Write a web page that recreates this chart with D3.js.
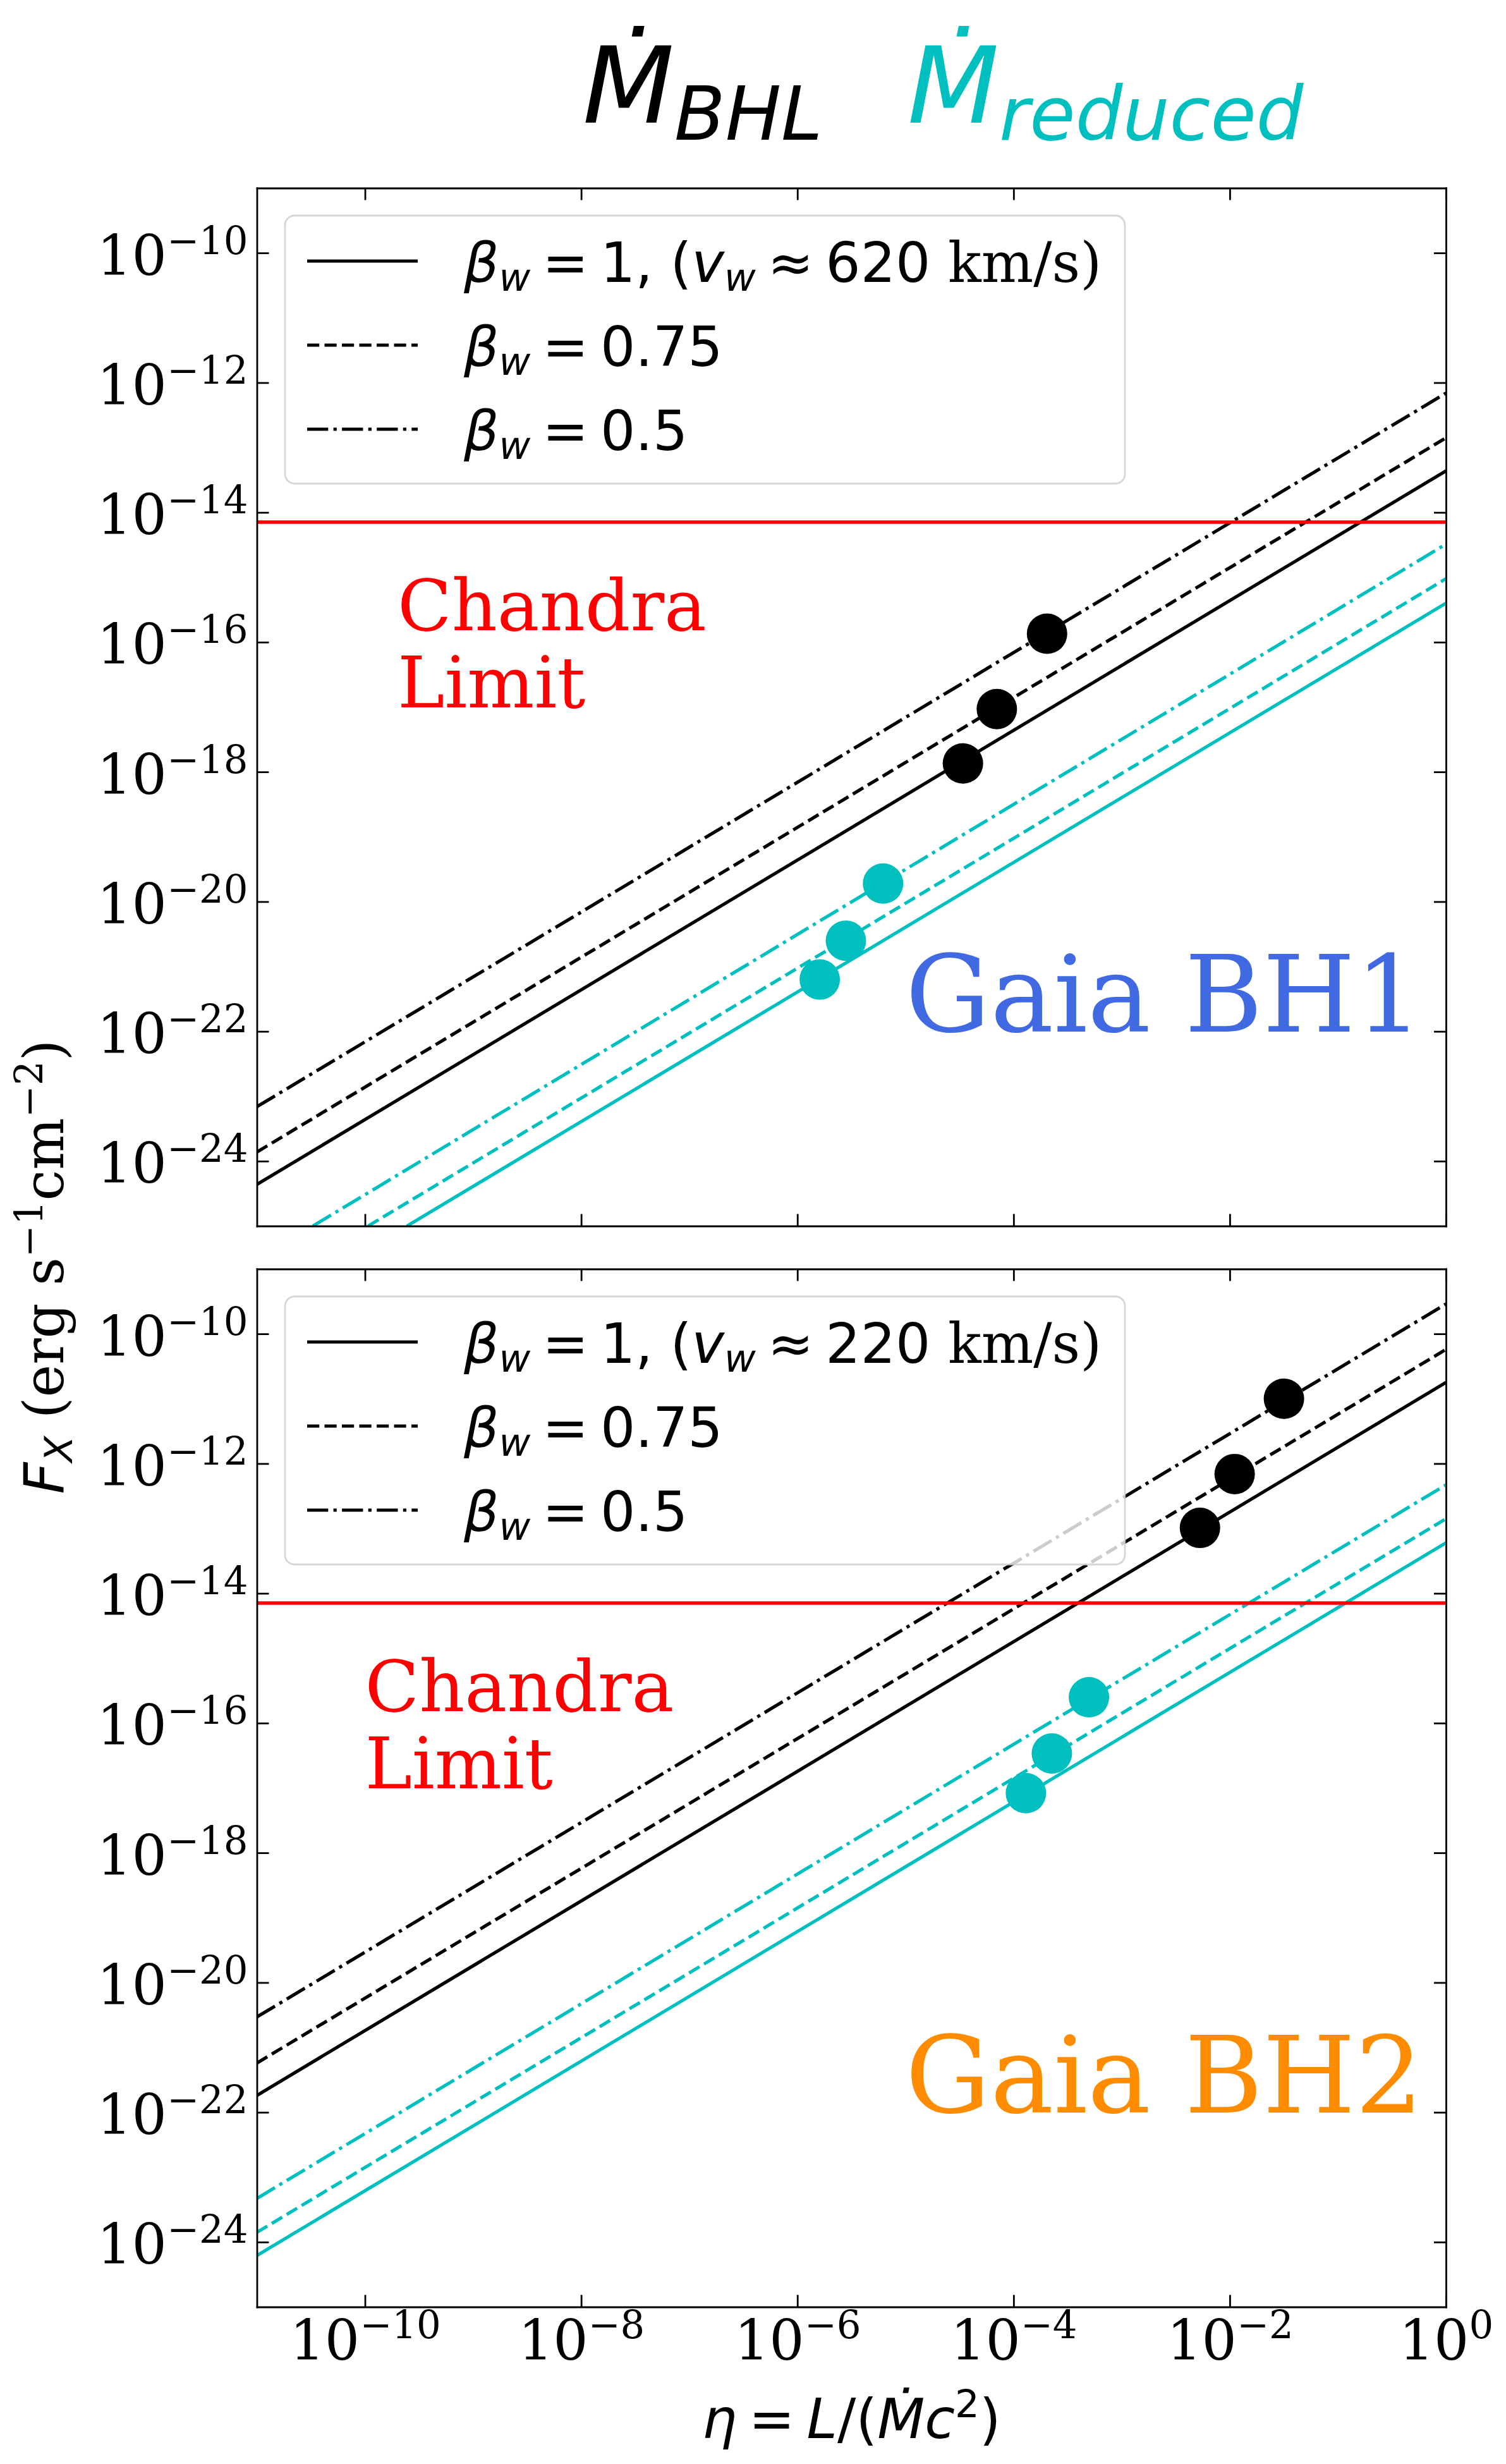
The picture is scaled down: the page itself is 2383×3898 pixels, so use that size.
<!DOCTYPE html>
<html>
<head>
<meta charset="utf-8">
<script src="https://cdn.jsdelivr.net/npm/d3@7"></script>
<style>
  body { margin: 0; background: #fff; }
  text { white-space: pre; }
</style>
</head>
<body>
<script>
// ---- data ----
const xTickExps = [-10, -8, -6, -4, -2, 0];
const yTickExps = [-24, -22, -20, -18, -16, -14, -12, -10];
const betaLabels = ["1", "0.75", "0.5"];
const windSpeeds = ["620", "220"];
const panelNames = ["Gaia BH1", "Gaia BH2"];
const chandraLimit = 7.1e-15;

// line end points [eta, F_X], order beta_w = 1, 0.75, 0.5
const bh1BhlLines = [
  [[1e-11, 4.37e-25], [1, 4.37e-14]],
  [[1e-11, 1.38e-24], [1, 1.41e-13]],
  [[1e-11, 6.9e-24], [1, 6.9e-13]]
];
const bh1ReducedLines = [
  [[2.45e-10, 1e-25], [1, 3.98e-16]],
  [[1.07e-10, 1e-25], [1, 9.5e-16]],
  [[3.3e-11, 1e-25], [1, 3.24e-15]]
];
const bh2BhlLines = [
  [[1e-11, 1.82e-22], [1, 1.78e-11]],
  [[1e-11, 5.75e-22], [1, 5.75e-11]],
  [[1e-11, 2.95e-21], [1, 2.88e-10]]
];
const bh2ReducedLines = [
  [[1e-11, 6.2e-25], [1, 6.0e-14]],
  [[1e-11, 1.41e-24], [1, 1.41e-13]],
  [[1e-11, 4.7e-24], [1, 4.7e-13]]
];

// markers [eta, F_X]
const bh1BhlPoints = [[3.4e-5, 1.35e-18], [7.0e-5, 9.3e-18], [2.04e-4, 1.35e-16]];
const bh1ReducedPoints = [[1.61e-6, 6.3e-22], [2.81e-6, 2.5e-21], [6.2e-6, 1.9e-20]];
const bh2BhlPoints = [[5.3e-3, 1.02e-13], [1.11e-2, 6.9e-13], [3.17e-2, 1.0e-11]];
const bh2ReducedPoints = [[1.30e-4, 8.3e-18], [2.26e-4, 3.4e-17], [4.98e-4, 2.5e-16]];

// ---- layout ----
const width = 2383, height = 3898;
const left = 406.5, right = 2288;
const panelH = 1642;
const sans = "'DejaVu Sans', sans-serif";
const serif = "'DejaVu Serif', serif";
const fs = 87;
const lw = 5.2;
const black = "#000000", cyan = "#00bfbf";
const dashes = [null, "19.2,8.3", "33.3,8.3,5.2,8.3"];
const tickLen = 19, axisW = 2.8;

const panels = [
  { top: 297.5, bhl: bh1BhlLines, reduced: bh1ReducedLines, bhlPts: bh1BhlPoints,
    reducedPts: bh1ReducedPoints, speed: windSpeeds[0], name: panelNames[0],
    nameColor: "#4169e1", chandraX: 2e-10, xLabels: false },
  { top: 2007.5, bhl: bh2BhlLines, reduced: bh2ReducedLines, bhlPts: bh2BhlPoints,
    reducedPts: bh2ReducedPoints, speed: windSpeeds[1], name: panelNames[1],
    nameColor: "#ff8c00", chandraX: 1e-10, xLabels: true }
];

const svg = d3.select("body").append("svg")
  .attr("width", width)
  .attr("height", height)
  .style("background", "#fff");

// mathtext-like rich text: parts {t, it, serif, sub, sup, sp}
// sp = narrow math space (a space set in a smaller size)
function rich(sel, parts, size) {
  let shift = 0;
  parts.forEach(p => {
    const target = p.sub ? 0.16 * size : p.sup ? -0.38 * size : 0;
    const fsz = (p.sub || p.sup) ? size * 0.7 : p.sp ? size * 0.68 : size;
    sel.append("tspan")
      .attr("dy", target - shift)
      .attr("font-size", fsz)
      .attr("font-family", p.serif ? serif : sans)
      .attr("font-style", p.it ? "italic" : "normal")
      .text(p.sp ? " " : p.t);
    shift = target;
  });
  return sel;
}

function tickParts(exp) {
  return [{ t: "10", serif: true }, { t: (exp < 0 ? "\u2212" : "") + Math.abs(exp), serif: true, sup: true }];
}

panels.forEach((p, i) => {
  const x = d3.scaleLog().domain([1e-11, 1]).range([left, right]);
  const y = d3.scaleLog().domain([1e-25, 1e-9]).range([p.top + panelH, p.top]);
  const g = svg.append("g");

  svg.append("clipPath").attr("id", "clip" + i)
    .append("rect")
    .attr("x", left).attr("y", p.top)
    .attr("width", right - left).attr("height", panelH);

  const plot = g.append("g").attr("clip-path", `url(#clip${i})`);
  const line = d3.line().x(d => x(d[0])).y(d => y(d[1]));

  // model lines
  [[p.bhl, black], [p.reduced, cyan]].forEach(([set, col]) => {
    set.forEach((pts, k) => {
      plot.append("path")
        .attr("d", line(pts))
        .attr("fill", "none")
        .attr("stroke", col)
        .attr("stroke-width", lw)
        .attr("stroke-dasharray", dashes[k]);
    });
  });

  // Chandra limit
  plot.append("line")
    .attr("x1", left).attr("x2", right)
    .attr("y1", y(chandraLimit)).attr("y2", y(chandraLimit))
    .attr("stroke", "red")
    .attr("stroke-width", 5.5);

  // markers
  plot.selectAll("circle.bhl").data(p.bhlPts).join("circle")
    .attr("class", "bhl")
    .attr("cx", d => x(d[0])).attr("cy", d => y(d[1]))
    .attr("r", 32).attr("fill", black);
  plot.selectAll("circle.red").data(p.reducedPts).join("circle")
    .attr("class", "red")
    .attr("cx", d => x(d[0])).attr("cy", d => y(d[1]))
    .attr("r", 32).attr("fill", cyan);

  // annotations
  const cy0 = y(1e-17);
  g.append("text").attr("x", x(p.chandraX)).attr("y", cy0 - 122)
    .attr("font-family", serif).attr("font-size", 112).attr("fill", "red").text("Chandra");
  g.append("text").attr("x", x(p.chandraX)).attr("y", cy0)
    .attr("font-family", serif).attr("font-size", 112).attr("fill", "red").text("Limit");
  g.append("text").attr("x", x(1e-5)).attr("y", y(1e-22))
    .attr("font-family", serif).attr("font-size", 168).attr("fill", p.nameColor).text(p.name);

  // axes, ticks inward on all sides
  const yVals = yTickExps.map(e => Math.pow(10, e));
  const xVals = xTickExps.map(e => Math.pow(10, e));
  const axes = [
    g.append("g").attr("transform", `translate(${left},0)`)
      .call(d3.axisLeft(y).tickValues(yVals).tickSizeInner(-tickLen).tickSizeOuter(0).tickFormat("")),
    g.append("g").attr("transform", `translate(${right},0)`)
      .call(d3.axisRight(y).tickValues(yVals).tickSizeInner(-tickLen).tickSizeOuter(0).tickFormat("")),
    g.append("g").attr("transform", `translate(0,${p.top + panelH})`)
      .call(d3.axisBottom(x).tickValues(xVals).tickSizeInner(-tickLen).tickSizeOuter(0).tickFormat("")),
    g.append("g").attr("transform", `translate(0,${p.top})`)
      .call(d3.axisTop(x).tickValues(xVals).tickSizeInner(-tickLen).tickSizeOuter(0).tickFormat(""))
  ];
  axes.forEach(a => {
    a.selectAll("line").attr("stroke", "#000").attr("stroke-width", axisW);
    a.select(".domain").attr("stroke", "#000").attr("stroke-width", axisW).attr("stroke-linecap", "square");
    a.selectAll(".tick text").remove();
  });

  axes[0].selectAll(".tick").each(function (d, k) {
    const t = d3.select(this).append("text")
      .attr("x", -14).attr("y", 34)
      .attr("text-anchor", "end").attr("fill", "#000");
    rich(t, tickParts(yTickExps[k]), fs);
  });

  if (p.xLabels) {
    axes[2].selectAll(".tick").each(function (d, k) {
      const t = d3.select(this).append("text")
        .attr("x", 0).attr("y", 83)
        .attr("text-anchor", "middle").attr("fill", "#000");
      rich(t, tickParts(xTickExps[k]), fs);
    });
  }

  // legend
  const lx = 451, ly = p.top + 43.5;
  const lg = g.append("g");
  lg.append("rect")
    .attr("x", lx).attr("y", ly)
    .attr("width", 1329).attr("height", 424)
    .attr("rx", 15)
    .attr("fill", "#fff").attr("fill-opacity", 0.8)
    .attr("stroke", "#cccccc").attr("stroke-opacity", 0.8)
    .attr("stroke-width", axisW);
  betaLabels.forEach((b, k) => {
    const ry = ly + 72 + 133 * k;
    lg.append("line")
      .attr("x1", 486).attr("x2", 661)
      .attr("y1", ry).attr("y2", ry)
      .attr("stroke", black).attr("stroke-width", lw)
      .attr("stroke-dasharray", dashes[k]);
    const parts = [{ t: "\u03b2", it: true }, { t: "w", it: true, sub: true },
      { sp: true }, { t: "=" }, { sp: true }];
    if (k === 0) {
      parts.push({ t: "1, (" }, { t: "v", it: true }, { t: "w", it: true, sub: true },
        { sp: true }, { t: "\u2248" }, { sp: true }, { t: p.speed }, { t: " km/s)", serif: true });
    } else {
      parts.push({ t: b });
    }
    rich(lg.append("text").attr("x", 734).attr("y", ry + 33).attr("fill", "#000"), parts, fs);
  });
});

// title
rich(svg.append("text").attr("x", 922).attr("y", 194).attr("fill", black),
  [{ t: "\u1e40", it: true }, { t: "BHL", it: true, sub: true }], 168);
rich(svg.append("text").attr("x", 1436).attr("y", 194).attr("fill", cyan),
  [{ t: "\u1e40", it: true }, { t: "reduced", it: true, sub: true }], 168);

// y label
rich(svg.append("text")
    .attr("transform", "translate(100,2004) rotate(-90)")
    .attr("text-anchor", "middle").attr("fill", "#000"),
  [{ t: "F", it: true }, { t: "X", it: true, sub: true }, { t: " (erg s", serif: true },
   { t: "\u22121", serif: true, sup: true }, { t: "cm", serif: true },
   { t: "\u22122", serif: true, sup: true }, { t: ")", serif: true }], fs);

// x label
rich(svg.append("text")
    .attr("x", (left + right) / 2).attr("y", 3857)
    .attr("text-anchor", "middle").attr("fill", "#000"),
  [{ t: "\u03b7", it: true }, { sp: true }, { t: "=" }, { sp: true }, { t: "L", it: true }, { t: "/(" },
   { t: "\u1e40c", it: true }, { t: "2", sup: true }, { t: ")" }], fs);
</script>
</body>
</html>
